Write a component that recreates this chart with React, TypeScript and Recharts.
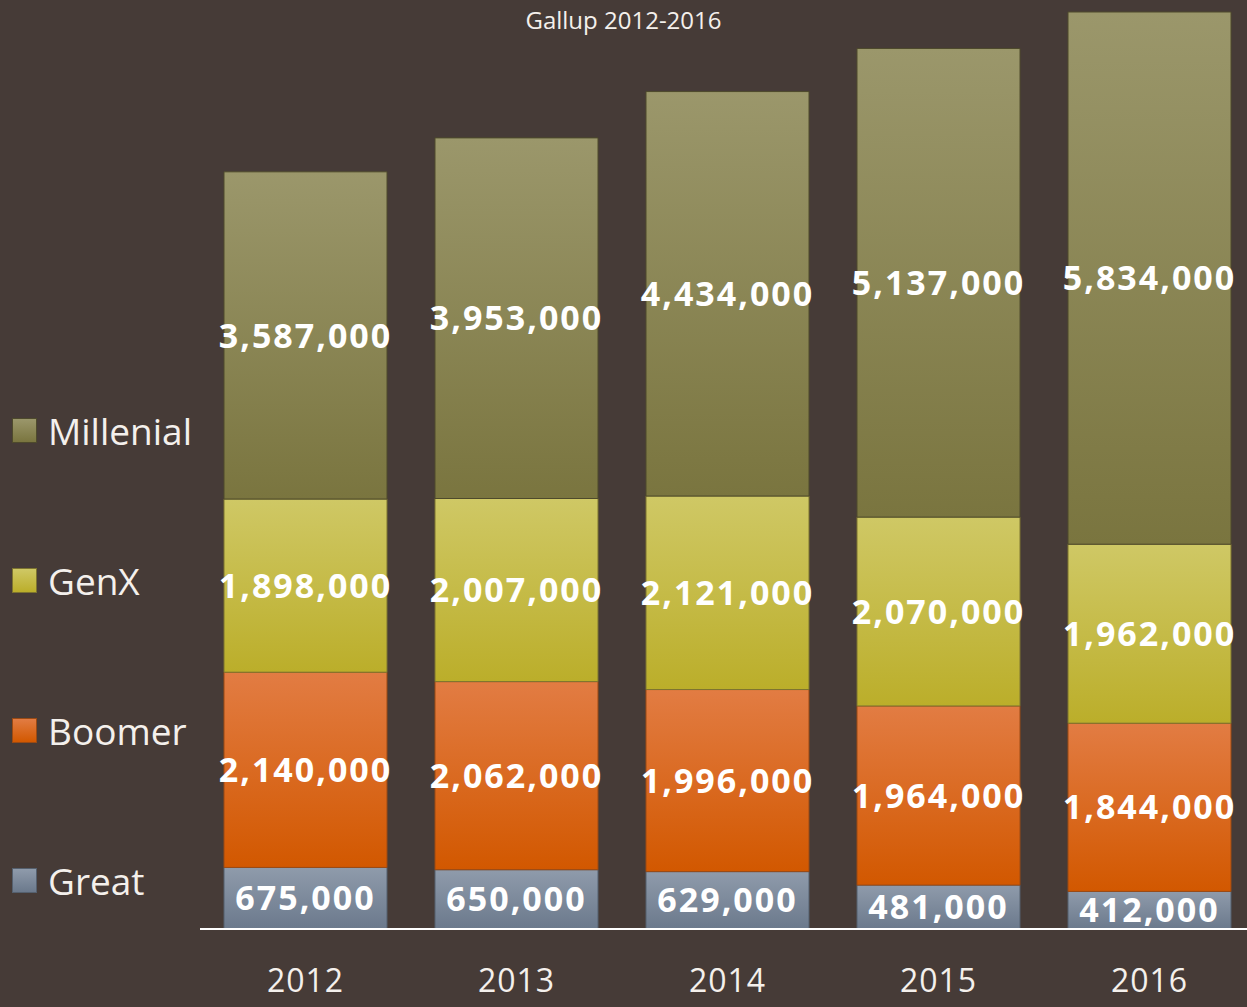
import { Bar, BarChart, LabelList, XAxis, YAxis } from "recharts";

const years = ["2012", "2013", "2014", "2015", "2016"];
const great = [675000, 650000, 629000, 481000, 412000];
const boomer = [2140000, 2062000, 1996000, 1964000, 1844000];
const genx = [1898000, 2007000, 2121000, 2070000, 1962000];
const millenial = [3587000, 3953000, 4434000, 5137000, 5834000];

const series = [
  { key: "Great", values: great, top: "#8f9bab", bottom: "#6b798c", edge: "#55606e" },
  { key: "Boomer", values: boomer, top: "#e27c43", bottom: "#d25800", edge: "#9a4a14" },
  { key: "GenX", values: genx, top: "#cfc865", bottom: "#bbae2a", edge: "#7d7430" },
  { key: "Millenial", values: millenial, top: "#9b976b", bottom: "#7a753f", edge: "#4e4a2c" },
];

const data = years.map((year, i) => {
  const row: Record<string, string | number> = { year };
  series.forEach((s) => {
    row[s.key] = s.values[i];
  });
  return row;
});

const font = "'Open Sans', 'DejaVu Sans', sans-serif";
const fmt = (v: any) => Number(v).toLocaleString("en-US");

export default function App() {
  return (
    <div
      style={{
        position: "absolute",
        left: 0,
        top: 0,
        width: 1247,
        height: 1007,
        overflow: "hidden",
        background: "#463b37",
        fontFamily: font,
      }}
    >
      <BarChart
        width={1260}
        height={1007}
        data={data}
        margin={{ top: 12, right: 5, bottom: 48, left: 200 }}
        barSize={163}
      >
        <defs>
          {series.map((s) => (
            <linearGradient key={s.key} id={`g-${s.key}`} x1="0" y1="0" x2="0" y2="1">
              <stop offset="0%" stopColor={s.top} />
              <stop offset="100%" stopColor={s.bottom} />
            </linearGradient>
          ))}
        </defs>
        <XAxis
          dataKey="year"
          axisLine={{ stroke: "#ffffff", strokeWidth: 2 }}
          tickLine={false}
          tickMargin={34}
          tick={{ fill: "#f4f0ec", fontSize: 32, fontFamily: font, letterSpacing: 1 }}
        />
        <YAxis hide domain={[0, "dataMax"]} />
        {series.map((s) => (
          <Bar
            key={s.key}
            dataKey={s.key}
            stackId="a"
            fill={`url(#g-${s.key})`}
            stroke={s.edge}
            strokeWidth={1}
            isAnimationActive={false}
          >
            <LabelList
              dataKey={s.key}
              position="center"
              formatter={fmt}
              fill="#ffffff"
              fontSize={34}
              fontWeight="bold"
              fontFamily={font}
              letterSpacing={2}
            />
          </Bar>
        ))}
      </BarChart>
      <div
        style={{
          position: "absolute",
          left: 0,
          width: 1247,
          top: 3,
          textAlign: "center",
          color: "#f4f0ec",
          fontSize: 24,
        }}
      >
        Gallup 2012-2016
      </div>
      {[...series].reverse().map((s, i) => (
        <div
          key={s.key}
          style={{
            position: "absolute",
            left: 12,
            top: 406 + i * 150,
            height: 48,
            display: "flex",
            alignItems: "center",
            color: "#f4f0ec",
            fontSize: 37,
          }}
        >
          <span
            style={{
              display: "inline-block",
              width: 23,
              height: 23,
              marginRight: 11,
              background: `linear-gradient(${s.top}, ${s.bottom})`,
              border: `1px solid ${s.edge}`,
            }}
          />
          {s.key}
        </div>
      ))}
    </div>
  );
}
